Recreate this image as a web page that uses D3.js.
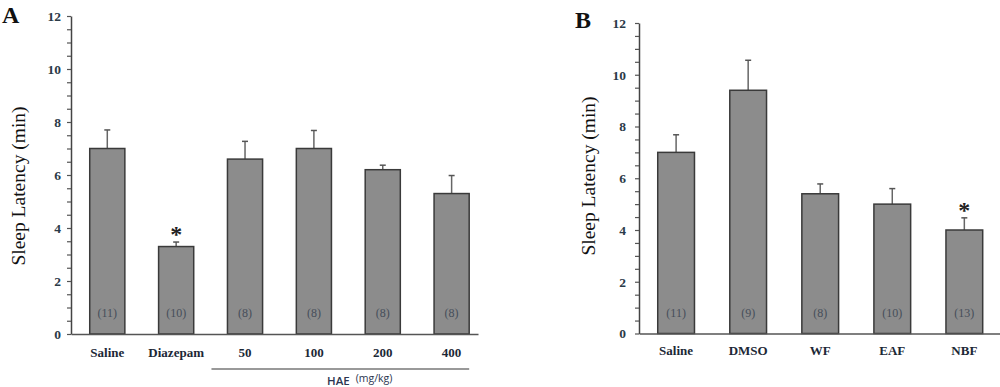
<!DOCTYPE html>
<html>
<head>
<meta charset="utf-8">
<script src="https://cdn.jsdelivr.net/npm/d3@7"></script>
<style>
  html, body { margin: 0; padding: 0; background: #fff; }
  svg { display: block; }
</style>
</head>
<body>
<svg id="chart" width="1000" height="387"></svg>
<script>
// ---- Data ----
const catsA = ["Saline", "Diazepam", "50", "100", "200", "400"];
const meanA = [7.0, 3.3, 6.6, 7.0, 6.2, 5.3];
const semA  = [0.7, 0.17, 0.67, 0.68, 0.17, 0.68];
const nA    = ["(11)", "(10)", "(8)", "(8)", "(8)", "(8)"];
const sigA  = [false, true, false, false, false, false];

const catsB = ["Saline", "DMSO", "WF", "EAF", "NBF"];
const meanB = [7.0, 9.4, 5.4, 5.0, 4.0];
const semB  = [0.68, 1.16, 0.38, 0.6, 0.47];
const nB    = ["(11)", "(9)", "(8)", "(10)", "(13)"];
const sigB  = [false, false, false, false, true];

const yMajorTicks = [0, 2, 4, 6, 8, 10, 12];
const yMinorTicks = [0, 0.5, 1, 1.5, 2, 2.5, 3, 3.5, 4, 4.5, 5, 5.5, 6, 6.5, 7, 7.5, 8, 8.5, 9, 9.5, 10, 10.5, 11, 11.5, 12];
const yTitle = "Sleep Latency (min)";
const groupLabel = "HAE";
const groupUnit = "(mg/kg)";

const svg = d3.select("#chart");
const serif = "Liberation Serif";
const sans = "Open Sans";
const tickColor = "#2b3a48";

function panel(opt) {
  const g = svg.append("g");
  const y = d3.scaleLinear().domain([0, 12]).range([opt.y0, opt.y12]);
  const x = d3.scaleBand().domain(opt.cats)
    .range([opt.xl, opt.xr])
    .paddingInner(0.49).paddingOuter(opt.po).align(opt.align);

  // y axis
  const ya = g.append("g").attr("transform", `translate(${opt.xl},0)`)
    .call(d3.axisLeft(y).tickValues(yMinorTicks).tickSize(4).tickSizeOuter(0)
      .tickPadding(opt.tp)
      .tickFormat(d => yMajorTicks.includes(d) ? d : ""));
  ya.select(".domain").attr("stroke", "#444").attr("stroke-width", 1.5);
  ya.selectAll(".tick line").attr("stroke", "#555").attr("stroke-width", 1.2);
  ya.selectAll(".tick text").style("font-family", serif).style("font-weight", "bold")
    .style("font-size", "13.5px").attr("fill", tickColor);

  const data = opt.cats.map((c, i) => ({c, m: opt.mean[i], s: opt.sem[i], n: opt.n[i], sig: opt.sig[i]}));

  // error bars (upper only)
  const eb = g.append("g");
  eb.selectAll("line.v").data(data).join("line")
    .attr("x1", d => x(d.c) + x.bandwidth() / 2).attr("x2", d => x(d.c) + x.bandwidth() / 2)
    .attr("y1", d => y(d.m)).attr("y2", d => y(d.m + d.s))
    .attr("stroke", "#666").attr("stroke-width", 1.5);
  eb.selectAll("line.c").data(data).join("line")
    .attr("x1", d => x(d.c) + x.bandwidth() / 2 - 3).attr("x2", d => x(d.c) + x.bandwidth() / 2 + 3)
    .attr("y1", d => y(d.m + d.s)).attr("y2", d => y(d.m + d.s))
    .attr("stroke", "#555").attr("stroke-width", 1.5);

  g.append("g").selectAll("rect").data(data).join("rect")
    .attr("x", d => x(d.c)).attr("width", x.bandwidth())
    .attr("y", d => y(d.m)).attr("height", d => y(0) - y(d.m))
    .attr("fill", "#8c8c8c").attr("stroke", "#3a3a3a").attr("stroke-width", 1.5);

  // n labels
  g.append("g").selectAll("text").data(data).join("text")
    .attr("x", d => x(d.c) + x.bandwidth() / 2).attr("y", 317)
    .attr("text-anchor", "middle").style("font-family", serif).style("font-size", "12px")
    .attr("fill", "#464e5a").text(d => d.n);

  // significance stars
  g.append("g").selectAll("text").data(data.filter(d => d.sig)).join("text")
    .attr("x", d => x(d.c) + x.bandwidth() / 2).attr("y", d => y(d.m + d.s))
    .attr("text-anchor", "middle").style("font-family", serif).style("font-weight", "bold")
    .style("font-size", "24px").attr("fill", "#222").text("*");

  // x axis
  const xa = g.append("g").attr("transform", `translate(0,${opt.y0})`)
    .call(d3.axisBottom(x).tickSize(0).tickSizeOuter(0).tickPadding(opt.xlp));
  xa.select(".domain").attr("stroke", "#555").attr("stroke-width", 1.5);
  xa.selectAll(".tick text").style("font-family", serif).style("font-weight", "bold")
    .style("font-size", "13px").attr("fill", "#1c2836");

  // y title
  g.append("text")
    .attr("transform", `translate(${opt.titleX},${opt.titleY}) rotate(-90)`)
    .attr("text-anchor", "middle").style("font-family", serif).style("font-size", "19.5px")
    .attr("fill", "#111").text(yTitle);

  // panel letter
  g.append("text").attr("x", opt.letterX).attr("y", opt.letterY)
    .style("font-family", serif).style("font-weight", "bold").style("font-size", "24px")
    .attr("fill", "#111").text(opt.letter);

  return {x, y, g};
}

const A = panel({
  cats: catsA, mean: meanA, sem: semA, n: nA, sig: sigA,
  xl: 71, xr: 478, y0: 334, y12: 16, po: 0.2, align: 0.68, tp: 6, xlp: 14,
  titleX: 25, titleY: 186, letter: "A", letterX: 2, letterY: 23
});

const B = panel({
  cats: catsB, mean: meanB, sem: semB, n: nB, sig: sigB,
  xl: 639, xr: 1000, y0: 333.5, y12: 23, po: 0.25, align: 0.52, tp: 9, xlp: 12,
  titleX: 595, titleY: 176, letter: "B", letterX: 575, letterY: 28
});

// HAE grouping line and label (panel A)
const hx1 = A.x("50") - 16, hx2 = A.x("400") + A.x.bandwidth();
A.g.append("line").attr("x1", hx1).attr("x2", hx2).attr("y1", 369).attr("y2", 369)
  .attr("stroke", "#777").attr("stroke-width", 1.5);
const ht = A.g.append("text").attr("x", 327).attr("y", 385)
  .style("font-family", sans).attr("fill", "#2b3550");
ht.append("tspan").style("font-size", "11.5px").style("font-weight", "600").text(groupLabel);
ht.append("tspan").style("font-size", "10.5px").attr("dx", 6).attr("dy", -3).text(groupUnit);
</script>
</body>
</html>
